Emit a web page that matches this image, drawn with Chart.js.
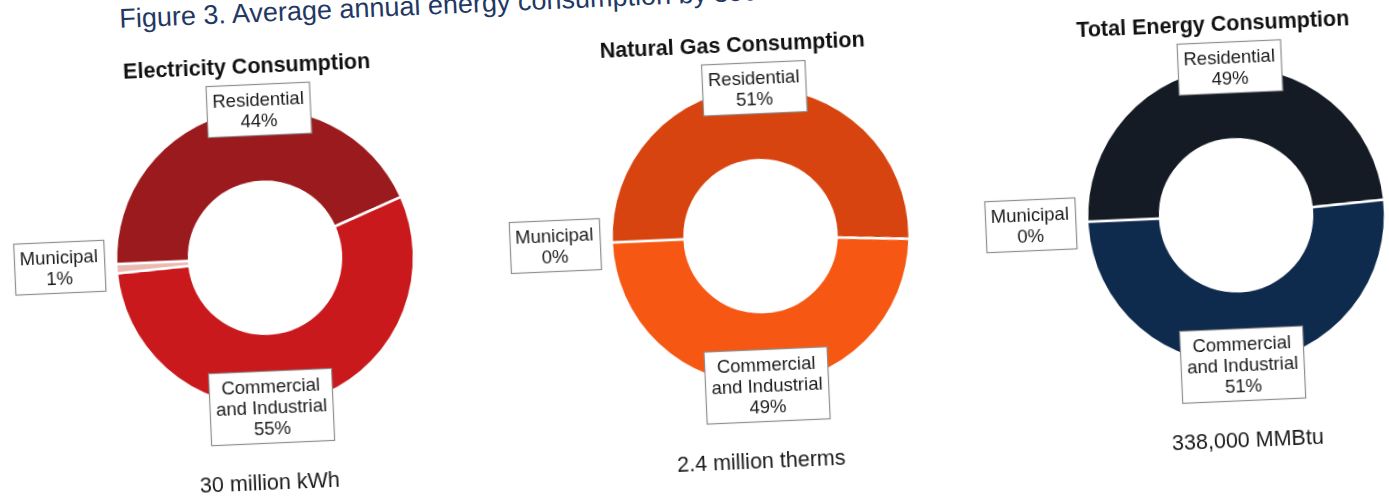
<!DOCTYPE html>
<html>
<head>
<meta charset="utf-8">
<script src="https://cdn.jsdelivr.net/npm/chart.js@4.4.1/dist/chart.umd.min.js"></script>
<style>
  html, body { margin: 0; padding: 0; background: #fff; overflow: hidden; }
  #page {
    position: relative; width: 1389px; height: 496px;
    transform: rotate(-2.5deg); transform-origin: 694.5px 248px;
  }
  #figTitle {
    position: absolute; left: 130px; top: -19px; white-space: nowrap;
    font: 27px/27px "Liberation Sans", Arial, sans-serif; color: #1f3864;
  }
  .panel { position: absolute; top: 0; width: 560px; height: 496px; }
</style>
</head>
<body>
<div id="page">
  <div id="figTitle">Figure 3. Average annual energy consumption by sector</div>
  <div class="panel" style="left:-15px"><canvas id="elecChart"></canvas></div>
  <div class="panel" style="left:481px"><canvas id="gasChart"></canvas></div>
  <div class="panel" style="left:957px"><canvas id="totalChart"></canvas></div>
</div>
<script>
// sectors, in drawing order (clockwise from 9 o'clock)
const categories = ['Residential', ['Commercial', 'and Industrial'], 'Municipal'];

// share of consumption by sector, %
const electricityShare = [44, 55, 1];
const gasShare = [51, 49, 0];
const totalShare = [49, 51, 0];

const panelTitles = ['Electricity Consumption', 'Natural Gas Consumption', 'Total Energy Consumption'];
const panelTotals = ['30 million kWh', '2.4 million therms', '338,000 MMBtu'];

const electricityColors = ['#9b1a1d', '#c9191c', '#eab9b2'];
const gasColors = ['#d8440f', '#f65712', '#f8c9a8'];
const totalColors = ['#141b24', '#0e2a4c', '#b9c2cf'];

const FONT = '"Liberation Sans", Arial, sans-serif';

// boxed "name / value%" labels, snapped to the nearest side of the ring
const boxLabels = {
    id: 'boxLabels',
    afterDatasetsDraw(chart) {
        const ctx = chart.ctx;
        const meta = chart.getDatasetMeta(0);
        const values = chart.data.datasets[0].data;
        const lineH = 21, padX = 6, padY = 4.5, gap = 12;
        ctx.save();
        ctx.font = `18.5px ${FONT}`;
        ctx.textAlign = 'center';
        ctx.textBaseline = 'middle';
        meta.data.forEach((arc, i) => {
            const { x, y, startAngle, endAngle, outerRadius } =
                arc.getProps(['x', 'y', 'startAngle', 'endAngle', 'outerRadius'], true);
            const mid = (startAngle + endAngle) / 2;
            const lines = [].concat(chart.data.labels[i], values[i] + '%');
            const w = Math.max(...lines.map(l => ctx.measureText(l).width)) + padX * 2;
            const h = lines.length * lineH + padY * 2;
            const c = Math.cos(mid), s = Math.sin(mid);
            let bx, by;
            if (Math.abs(s) >= Math.abs(c)) {
                bx = x;
                by = y + Math.sign(s) * outerRadius;
            } else {
                by = y;
                bx = x + Math.sign(c) * (outerRadius + gap + w / 2);
            }
            const left = Math.round(bx - w / 2) + 0.5;
            const top = Math.round(by - h / 2) + 0.5;
            ctx.fillStyle = '#fff';
            ctx.fillRect(left, top, w, h);
            ctx.strokeStyle = '#8f8f8f';
            ctx.lineWidth = 1.2;
            ctx.strokeRect(left, top, w, h);
            ctx.fillStyle = '#1b1b1b';
            lines.forEach((l, k) => {
                ctx.fillText(l, bx, top + padY + lineH * (k + 0.5) + 1);
            });
        });
        ctx.restore();
    }
};

// panel heading above the ring, total below it
const panelText = {
    id: 'panelText',
    afterDraw(chart, args, opts) {
        const ctx = chart.ctx;
        const cx = chart.getDatasetMeta(0).data[0].x;
        ctx.save();
        ctx.textAlign = 'center';
        ctx.textBaseline = 'middle';
        ctx.fillStyle = '#111';
        ctx.font = `bold 21.5px ${FONT}`;
        ctx.fillText(opts.title, cx + opts.titleDx, 48);
        ctx.fillStyle = '#1a1a1a';
        ctx.font = `21.5px ${FONT}`;
        ctx.fillText(opts.total, cx + opts.totalDx, 465);
        ctx.restore();
    }
};

function makeDonut(canvasId, values, colors, idx, titleDx, totalDx) {
    const ctx = document.getElementById(canvasId).getContext('2d');
    return new Chart(ctx, {
        type: 'doughnut',
        data: {
            labels: categories,
            datasets: [{
                data: values,
                backgroundColor: colors,
                borderColor: '#fff',
                borderWidth: 2.5,
                radius: 149,
                cutout: '51%'
            }]
        },
        options: {
            responsive: true,
            maintainAspectRatio: false,
            animation: false,
            rotation: -90,
            layout: { padding: { bottom: 18 } },
            plugins: {
                legend: { display: false },
                tooltip: { enabled: false },
                panelText: { title: panelTitles[idx], total: panelTotals[idx], titleDx, totalDx }
            }
        },
        plugins: [boxLabels, panelText]
    });
}

makeDonut('elecChart', electricityShare, electricityColors, 0, -10, -5);
makeDonut('gasChart', gasShare, gasColors, 1, -20, -9);
makeDonut('totalChart', totalShare, totalColors, 2, -15, 2);
</script>
</body>
</html>
